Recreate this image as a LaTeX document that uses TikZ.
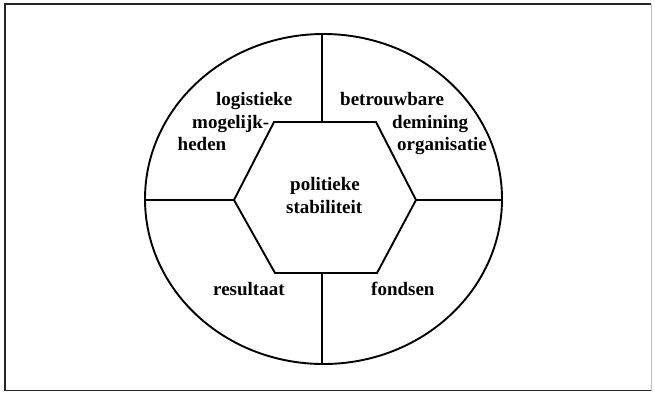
\documentclass[tikz,border=0pt]{standalone}
\usepackage{fontspec}
\setmainfont{Liberation Serif}
\begin{document}
\begin{tikzpicture}[x=1pt,y=-1pt,
  shape line/.style={line width=1.9pt, line join=miter},
  lbl/.style={inner sep=0pt, anchor=base west, font=\fontsize{19}{23}\selectfont\bfseries},
  frame/.style={line width=1.4pt, draw=black!85}]
\useasboundingbox (0,0) rectangle (655,392);
% frame
\draw[frame] (5,391) -- (5,4) -- (651,4);
\draw[frame] (5,390.5) -- (651,390.5);
\draw[line width=0.8pt, draw=black!25] (651,4) -- (651,390.5);
% ellipse
\coordinate (C) at (323.5,199);
\draw[shape line] (C) ellipse [x radius=178.5, y radius=165];
\coordinate (eT) at (322,34);
\coordinate (eB) at (322,364);
\coordinate (eL) at (145,200);
\coordinate (eR) at (502,200);
% hexagon
\coordinate (hL) at (234,200);
\coordinate (hTL) at (274,122);
\coordinate (hTR) at (376,122);
\coordinate (hR) at (416,200);
\coordinate (hBR) at (377,273);
\coordinate (hBL) at (275,273);
\draw[shape line] (hL) -- (hTL) -- (hTR) -- (hR) -- (hBR) -- (hBL) -- cycle;
% spokes
\coordinate (hT) at (322,122);
\coordinate (hB) at (322,273);
\draw[shape line] (eT) -- (hT);
\draw[shape line] (hB) -- (eB);
\draw[shape line] (eL) -- (hL);
\draw[shape line] (hR) -- (eR);
% labels
\node[lbl] (l1) at (216,105) {logistieke};
\node[lbl] (l2) at (192,128) {mogelijk-};
\node[lbl] (l3) at (177.5,150) {heden};
\node[lbl] (b1) at (340,105) {betrouwbare};
\node[lbl] (b2) at (392,128) {demining};
\node[lbl] (b3) at (397,150) {organisatie};
\node[lbl] (p1) at (290,190) {politieke};
\node[lbl] (p2) at (286,213) {stabiliteit};
\node[lbl] (r1) at (213,295) {resultaat};
\node[lbl] (f1) at (371,295) {fondsen};
\end{tikzpicture}
\end{document}
